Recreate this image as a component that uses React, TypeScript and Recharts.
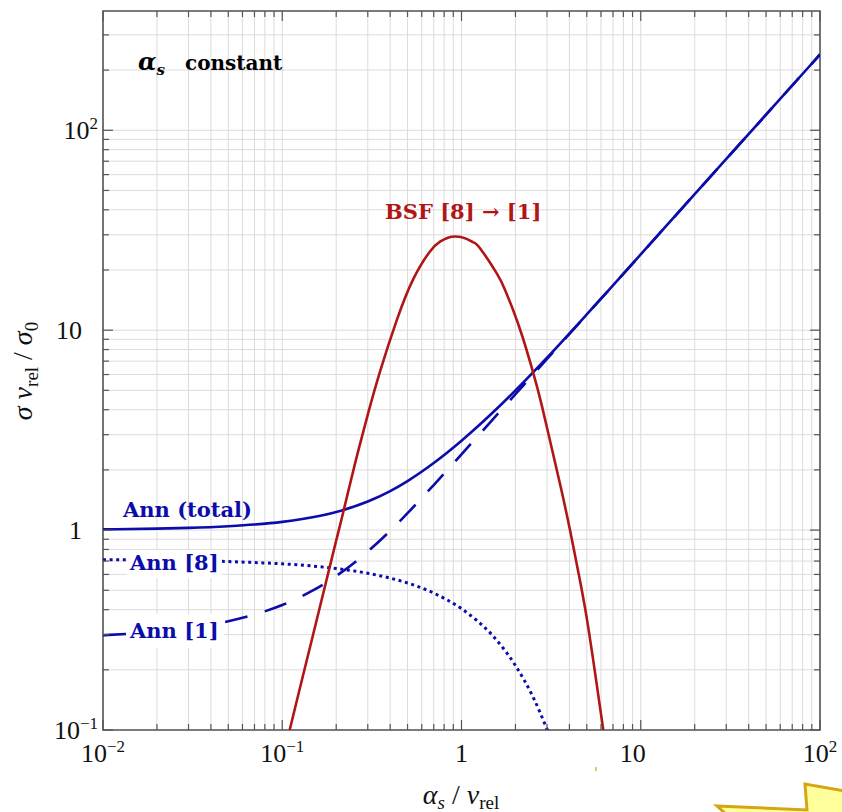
import React from 'react';
import { LineChart, Line, XAxis, YAxis, CartesianGrid, ReferenceArea } from 'recharts';

// ---------- data ----------
const annTotalX = [0.01, 0.02, 0.03, 0.05, 0.07, 0.1, 0.15, 0.2, 0.3, 0.4, 0.5, 0.7, 1, 1.2, 1.5, 2, 2.5, 3, 5, 7, 10, 20, 50, 100];
const annTotalY = [1.008, 1.017, 1.026, 1.046, 1.066, 1.099, 1.162, 1.231, 1.389, 1.567, 1.759, 2.164, 2.798, 3.229, 3.885, 4.997, 6.13, 7.281, 11.99, 16.76, 23.94, 47.87, 119.7, 239.4];

const ann1X = [0.01, 0.02, 0.03, 0.05, 0.07, 0.1, 0.15, 0.2, 0.3, 0.4, 0.5, 0.7, 1, 1.2, 1.5, 2, 2.5, 3, 5, 7, 10, 20, 50, 100];
const ann1Y = [0.298, 0.31, 0.323, 0.35, 0.378, 0.422, 0.502, 0.589, 0.781, 0.992, 1.215, 1.68, 2.394, 2.872, 3.59, 4.787, 5.98, 7.18, 11.97, 16.75, 23.94, 47.87, 119.7, 239.4];

const ann8X = [0.01, 0.02, 0.03, 0.05, 0.07, 0.1, 0.15, 0.2, 0.3, 0.4, 0.5, 0.7, 1, 1.2, 1.5, 2, 2.5, 3, 3.05];
const ann8Y = [0.711, 0.707, 0.703, 0.696, 0.688, 0.678, 0.66, 0.642, 0.608, 0.575, 0.544, 0.484, 0.404, 0.357, 0.295, 0.21, 0.147, 0.101, 0.0975];

const bsfX = [0.11, 0.125, 0.145, 0.165, 0.181, 0.2, 0.215, 0.24, 0.266, 0.3, 0.351, 0.435, 0.538, 0.667, 0.759, 0.84, 0.93, 1.05, 1.164, 1.268, 1.57, 1.75, 1.945, 2.2, 2.515, 2.8, 3.2, 3.6, 4.03, 4.5, 4.99, 5.6, 6.18];
const bsfY = [0.1, 0.16, 0.274, 0.439, 0.616, 0.887, 1.15, 1.73, 2.51, 3.78, 6.2, 11.2, 18.0, 24.75, 27.7, 29.0, 29.4, 28.8, 27.5, 25.7, 19.3, 15.9, 12.55, 9.14, 6.1, 4.23, 2.53, 1.6, 1.0, 0.607, 0.366, 0.185, 0.1];

const xTicks = [0.01, 0.02, 0.03, 0.04, 0.05, 0.06, 0.07, 0.08, 0.09, 0.1, 0.2, 0.3, 0.4, 0.5, 0.6, 0.7, 0.8, 0.9, 1, 2, 3, 4, 5, 6, 7, 8, 9, 10, 20, 30, 40, 50, 60, 70, 80, 90, 100];
const yTicks = [0.1, 0.2, 0.3, 0.4, 0.5, 0.6, 0.7, 0.8, 0.9, 1, 2, 3, 4, 5, 6, 7, 8, 9, 10, 20, 30, 40, 50, 60, 70, 80, 90, 100, 200, 300];

const xTickLabels = [
  { value: 0.01, base: '10', sup: '−2' },
  { value: 0.1, base: '10', sup: '−1' },
  { value: 1, base: '1', sup: '' },
  { value: 10, base: '10', sup: '' },
  { value: 100, base: '10', sup: '2' },
];
const yTickLabels = [
  { value: 0.1, base: '10', sup: '−1' },
  { value: 1, base: '1', sup: '' },
  { value: 10, base: '10', sup: '' },
  { value: 100, base: '10', sup: '2' },
];

const X_DOMAIN = [0.01, 100];
const Y_DOMAIN = [0.1, 395];

const pts = (xs: number[], ys: number[]) => xs.map((x, i) => ({ x, y: ys[i] }));
const annTotal = pts(annTotalX, annTotalY);
const ann1 = pts(ann1X, ann1Y);
const ann8 = pts(ann8X, ann8Y);
const bsf = pts(bsfX, bsfY);

// ---------- layout (page has no body margin) ----------
const W = 842;
const FULL_H = 812;
const H = 804;
const MARGIN = { top: 11, right: 22, bottom: 0, left: 0 };
const Y_AXIS_W = 103;
const X_AXIS_H = 74;
const PLOT_LEFT = MARGIN.left + Y_AXIS_W;
const PLOT_RIGHT = W - MARGIN.right;
const PLOT_TOP = MARGIN.top;
const PLOT_BOTTOM = H - MARGIN.bottom - X_AXIS_H;

const BLUE = '#0c0caa';
const RED = '#b01616';
const FRAME = '#555555';
const GRID = '#dcdcdc';
const TICK_FONT = "'Liberation Serif', 'DejaVu Serif', serif";
const ANN_FONT = "'DejaVu Serif', serif";

const findLabel = (list: typeof xTickLabels, v: number) =>
  list.find((l) => Math.abs(l.value - v) < v * 1e-6);

const XTick = (props: any) => {
  const { x, payload } = props;
  const lbl = findLabel(xTickLabels, payload.value);
  const len = lbl ? 10 : 6;
  const dx = lbl && !lbl.sup && lbl.base.length > 1 ? -8 : 0;
  return (
    <g>
      <line x1={x} x2={x} y1={PLOT_BOTTOM} y2={PLOT_BOTTOM - len} stroke={FRAME} strokeWidth={1.2} />
      <line x1={x} x2={x} y1={PLOT_TOP} y2={PLOT_TOP + len} stroke={FRAME} strokeWidth={1.2} />
      {lbl && (
        <text x={x + dx} y={PLOT_BOTTOM + 32} textAnchor="middle" fontFamily={TICK_FONT} fontSize={26} fill="#111">
          {lbl.base}
          {lbl.sup && (
            <tspan dy={-10} fontSize={17}>
              {lbl.sup}
            </tspan>
          )}
        </text>
      )}
    </g>
  );
};

const YTick = (props: any) => {
  const { y, payload } = props;
  const lbl = findLabel(yTickLabels, payload.value);
  const len = lbl ? 10 : 6;
  const endX = lbl && lbl.sup ? PLOT_LEFT - 5 : PLOT_LEFT - 21;
  return (
    <g>
      <line x1={PLOT_LEFT} x2={PLOT_LEFT + len} y1={y} y2={y} stroke={FRAME} strokeWidth={1.2} />
      <line x1={PLOT_RIGHT} x2={PLOT_RIGHT - len} y1={y} y2={y} stroke={FRAME} strokeWidth={1.2} />
      {lbl && (
        <text x={endX} y={y + 9} textAnchor="end" fontFamily={TICK_FONT} fontSize={26} fill="#111">
          {lbl.base}
          {lbl.sup && (
            <tspan dy={-10} fontSize={17}>
              {lbl.sup}
            </tspan>
          )}
        </text>
      )}
    </g>
  );
};

const Overlay = () => (
  <svg
    width={W}
    height={FULL_H}
    style={{ position: 'absolute', left: 0, top: 0, pointerEvents: 'none' }}
  >
    {/* alpha_s constant */}
    <text x={138} y={70} fontFamily={ANN_FONT} fontWeight="bold" fontSize={20} fill="#000">
      <tspan fontStyle="italic" fontSize={24}>α</tspan>
      <tspan fontStyle="italic" fontSize={15} dy={5}>s</tspan>
    </text>
    <text x={185} y={70} fontFamily={ANN_FONT} fontWeight="bold" fontSize={20} fill="#000">constant</text>

    {/* BSF label */}
    <text x={385} y={219} fontFamily={ANN_FONT} fontWeight="bold" fontSize={21} fill={RED}>BSF [8] → [1]</text>

    {/* Ann labels */}
    <text x={123} y={517} fontFamily={ANN_FONT} fontWeight="bold" fontSize={21} fill={BLUE}>Ann (total)</text>
    <rect x={127} y={550} width={95} height={28} fill="#fff" />
    <text x={130} y={570} fontFamily={ANN_FONT} fontWeight="bold" fontSize={21} fill={BLUE}>Ann [8]</text>
    <rect x={126} y={614} width={98} height={34} fill="#fff" />
    <text x={130} y={638} fontFamily={ANN_FONT} fontWeight="bold" fontSize={21} fill={BLUE}>Ann [1]</text>

    {/* x-axis title */}
    <text x={461} y={804} textAnchor="middle" fontFamily={TICK_FONT} fontSize={28} fill="#111">
      <tspan fontStyle="italic">α</tspan>
      <tspan fontStyle="italic" fontSize={19} dy={5}>s</tspan>
      <tspan dy={-5}> / </tspan>
      <tspan fontStyle="italic">ν</tspan>
      <tspan fontSize={19} dy={5}>rel</tspan>
    </text>

    {/* y-axis title */}
    <text
      x={0}
      y={0}
      transform="translate(32,371) rotate(-90)"
      textAnchor="middle"
      fontFamily={TICK_FONT}
      fontSize={28}
      fill="#111"
    >
      <tspan fontStyle="italic">σ ν</tspan>
      <tspan fontSize={19} dy={6}>rel</tspan>
      <tspan dy={-6}> / </tspan>
      <tspan fontStyle="italic">σ</tspan>
      <tspan fontSize={19} dy={6}>0</tspan>
    </text>

    {/* stray marks from the source image */}
    <rect x={595} y={767} width={1.6} height={4} fill="#e2bb55" />
    <polygon
      points="717,806 807,810 805,784 850,792 850,823 736,823"
      fill="#ffff9c"
      stroke="#d6a515"
      strokeWidth={3}
    />
  </svg>
);

export default function App() {
  return (
    <div style={{ position: 'relative', width: W, height: FULL_H, overflow: 'hidden' }}>
      <style>{'html,body{margin:0;padding:0;overflow:hidden;}'}</style>
      <LineChart width={W} height={H} margin={MARGIN}>
        <CartesianGrid stroke={GRID} strokeWidth={1} />
        <XAxis
          dataKey="x"
          type="number"
          scale="log"
          domain={X_DOMAIN}
          allowDataOverflow
          ticks={xTicks}
          interval={0}
          tick={XTick}
          tickLine={false}
          axisLine={false}
          height={X_AXIS_H}
        />
        <YAxis
          type="number"
          scale="log"
          domain={Y_DOMAIN}
          allowDataOverflow
          ticks={yTicks}
          interval={0}
          tick={YTick}
          tickLine={false}
          axisLine={false}
          width={Y_AXIS_W}
        />
        <Line data={ann8} dataKey="y" type="monotone" stroke={BLUE} strokeWidth={3} strokeDasharray="3 3.6" dot={false} isAnimationActive={false} />
        <Line data={ann1} dataKey="y" type="monotone" stroke={BLUE} strokeWidth={2.6} strokeDasharray="23 18" dot={false} isAnimationActive={false} />
        <Line data={annTotal} dataKey="y" type="monotone" stroke={BLUE} strokeWidth={2.6} dot={false} isAnimationActive={false} />
        <Line data={bsf} dataKey="y" type="natural" stroke={RED} strokeWidth={2.6} dot={false} isAnimationActive={false} />
        <ReferenceArea
          x1={X_DOMAIN[0]}
          x2={X_DOMAIN[1]}
          y1={Y_DOMAIN[0]}
          y2={Y_DOMAIN[1]}
          fill="none"
          stroke={FRAME}
          strokeWidth={1.6}
          ifOverflow="visible"
        />
      </LineChart>
      <Overlay />
    </div>
  );
}
